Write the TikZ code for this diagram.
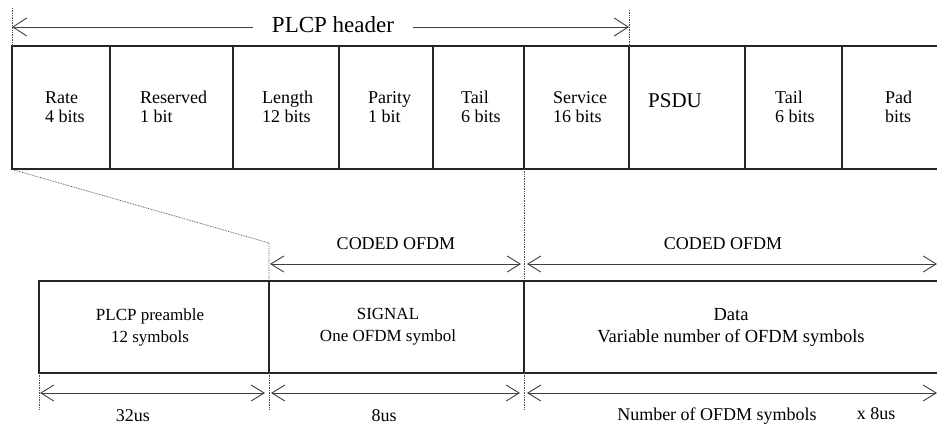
\documentclass[tikz,border=0pt]{standalone}
\usepackage{fontspec}
\setmainfont{Liberation Serif}
\usetikzlibrary{arrows.meta}
\begin{document}
\begin{tikzpicture}[x=1pt,y=-1pt,
  frame/.style={line width=1.3pt, draw=black!85},
  guide/.style={line width=0.7pt, draw=black!70, dash pattern=on 0.8pt off 0.9pt},
  dim/.style={line width=0.9pt, draw=black!75},
  both/.style={dim, {Straight Barb[length=13pt,width=16pt]}-{Straight Barb[length=13pt,width=16pt]}},
  tipL/.style={dim, {Straight Barb[length=14pt,width=18pt]}-},
  tipR/.style={dim, -{Straight Barb[length=14pt,width=18pt]}},
  field/.style={anchor=west, inner sep=0pt, align=left, font=\fontsize{18}{19.5}\selectfont},
  block/.style={inner sep=0pt, align=center, font=\fontsize{17}{22}\selectfont},
  tag/.style={inner sep=0pt, font=\fontsize{18}{20}\selectfont},
]
\useasboundingbox (0,0) rectangle (937,426);

% ---- PLCP frame (bit fields) ----
\draw[frame] (937,46) -- (12,46) -- (12,169) -- (937,169);
\foreach \x in {110,233,339,433,524,629,745,842}
  \draw[frame] (\x,46) -- (\x,169);

\node[field] (rate)  at (45,107)  {Rate\\4 bits};
\node[field] (res)   at (140,107) {Reserved\\1 bit};
\node[field] (len)   at (262,107) {Length\\12 bits};
\node[field] (par)   at (368,107) {Parity\\1 bit};
\node[field] (tail1) at (461,107) {Tail\\6 bits};
\node[field] (serv)  at (553,107) {Service\\16 bits};
\node[inner sep=0pt, anchor=base west, font=\fontsize{21}{24}\selectfont] (psdu) at (648,107) {PSDU};
\node[field] (tail2) at (775,107) {Tail\\6 bits};
\node[field] (pad)   at (885,107) {Pad\\bits};

% ---- header span ----
\node[inner xsep=19pt, inner ysep=0pt, font=\fontsize{23}{26}\selectfont] (hdr) at (333,25) {PLCP header};
\coordinate (hl) at (12,27);
\coordinate (hr) at (629,27);
\draw[tipL] (hl) -- (hdr.west |- hl);
\draw[tipR] (hdr.east |- hr) -- (hr);
\draw[guide] (12,8) -- (12,46);
\draw[guide] (629,10) -- (629,46);

% ---- projection guides ----
\draw[guide] (14,170) -- (269,243) -- (269,281);
\draw[guide] (524,169) -- (524,281);

% ---- PPDU frame ----
\draw[frame] (937,281) -- (39,281) -- (39,373) -- (937,373);
\draw[frame] (269,281) -- (269,373);
\draw[frame] (524,281) -- (524,373);

\node[block] (pre)  at (150,327) {PLCP preamble\\12 symbols};
\node[block] (sig)  at (388,327) {SIGNAL\\One OFDM symbol};
\node[block, font=\fontsize{18.5}{22}\selectfont] (data) at (731,327) {Data\\Variable number of OFDM symbols};

% ---- coded OFDM spans ----
\node[tag] (c1) at (396,244) {CODED OFDM};
\node[tag] (c2) at (723,244) {CODED OFDM};
\coordinate (s1a) at (270,264); \coordinate (s1b) at (521,264);
\coordinate (s2a) at (527,264); \coordinate (s2b) at (937,264);
\draw[both] (s1a) -- (s1b);
\draw[both] (s2a) -- (s2b);

% ---- duration spans ----
\draw[guide] (39,373) -- (39,410);
\draw[guide] (269,373) -- (269,410);
\draw[guide] (524,373) -- (524,410);
\coordinate (d1a) at (40,393);  \coordinate (d1b) at (265,393);
\coordinate (d2a) at (271,393); \coordinate (d2b) at (520,393);
\coordinate (d3a) at (527,393); \coordinate (d3b) at (937,393);
\draw[both] (d1a) -- (d1b);
\draw[both] (d2a) -- (d2b);
\draw[both] (d3a) -- (d3b);

\node[tag, anchor=base] (t1) at (133,421) {32us};
\node[tag, anchor=base] (t2) at (384,421) {8us};
\node[tag, anchor=base] (t3) at (717,420) {Number of OFDM symbols};
\node[tag, anchor=base] (t4) at (876,419) {x 8us};
\end{tikzpicture}
\end{document}
